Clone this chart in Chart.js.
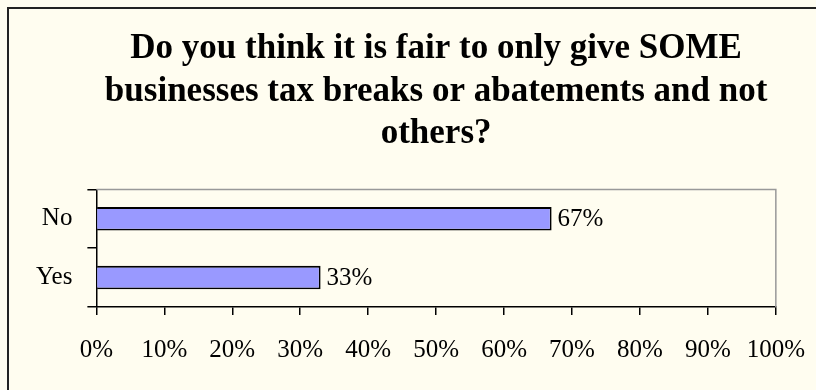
<!DOCTYPE html>
<html>
<head>
<meta charset="utf-8">
<script src="https://cdn.jsdelivr.net/npm/chart.js@4"></script>
<style>
  body { margin: 0; background: #fffdf0; overflow: hidden; }
  #frame {
    position: absolute; left: 7px; top: 7px;
    width: 816px; height: 383px;
    border-left: 2px solid #222; border-top: 2px solid #222;
    background: #fffdf0;
  }
  canvas { display: block; }
</style>
</head>
<body>
<div id="frame"><canvas id="chart" width="816" height="383"></canvas></div>
<script>
const titleLines = ['Do you think it is fair to only give SOME', 'businesses tax breaks or abatements and not', 'others?'];
const categories = ['No', 'Yes'];
const percentValues = [67, 33];
const xTicks = [0, 10, 20, 30, 40, 50, 60, 70, 80, 90, 100];

const serif = '"Liberation Serif", "Times New Roman", serif';

// grey top/right frame around the plot + value labels
const plotExtras = {
    id: 'plotExtras',
    afterDraw(chart) {
        const { ctx, chartArea: a } = chart;
        ctx.save();
        ctx.strokeStyle = '#999';
        ctx.lineWidth = 1.5;
        ctx.beginPath();
        ctx.moveTo(a.left, a.top);
        ctx.lineTo(a.right, a.top);
        ctx.lineTo(a.right, a.bottom);
        ctx.stroke();

        ctx.fillStyle = '#000';
        ctx.font = '25px ' + serif;
        ctx.textBaseline = 'middle';
        chart.getDatasetMeta(0).data.forEach((bar, i) => {
            ctx.fillText(percentValues[i] + '%', bar.x + 6, bar.y + 1);
        });
        ctx.restore();
    }
};

new Chart(document.getElementById('chart'), {
    type: 'bar',
    data: {
        labels: categories,
        datasets: [{
            data: percentValues,
            backgroundColor: '#9999ff',
            borderColor: '#000',
            borderWidth: 1.8,
            barPercentage: 0.4,
            categoryPercentage: 1
        }]
    },
    options: {
        indexAxis: 'y',
        responsive: false,
        animation: false,
        layout: { padding: { left: 12, right: 30, top: 0, bottom: 7 } },
        plugins: {
            legend: { display: false },
            tooltip: { enabled: false },
            title: {
                display: true,
                fullSize: false,
                text: titleLines,
                color: '#000',
                font: { family: serif, size: 35, weight: 'bold', lineHeight: 1.214 },
                padding: { top: 19, bottom: 34 }
            }
        },
        scales: {
            x: {
                min: 0,
                max: 100,
                afterBuildTicks(scale) {
                    scale.ticks = xTicks.map(v => ({ value: v }));
                },
                grid: { drawOnChartArea: false, tickLength: 8, color: '#000', lineWidth: 1.5 },
                border: { color: '#000', width: 1.5 },
                ticks: {
                    color: '#000',
                    padding: 20,
                    maxRotation: 0,
                    autoSkip: false,
                    font: { family: serif, size: 25 },
                    callback: v => v + '%'
                }
            },
            y: {
                grid: { drawOnChartArea: false, offset: true, tickLength: 9, color: '#000', lineWidth: 1.5 },
                border: { color: '#000', width: 1.5 },
                ticks: {
                    color: '#000',
                    padding: 15,
                    font: { family: serif, size: 25 }
                }
            }
        }
    },
    plugins: [plotExtras]
});
</script>
</body>
</html>
